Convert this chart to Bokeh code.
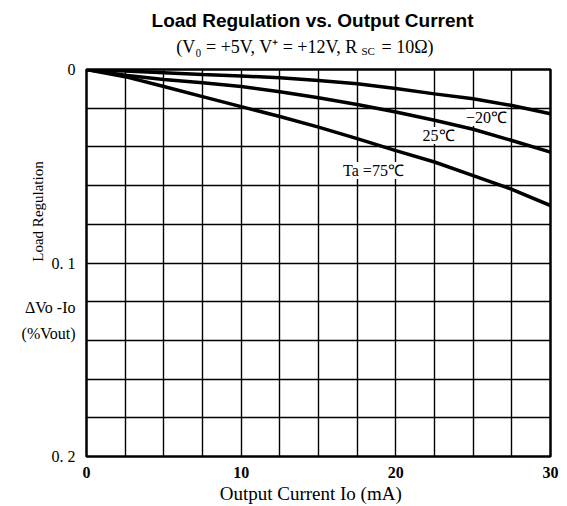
from bokeh.plotting import figure
from bokeh.models import Range1d, FixedTicker, Label
from bokeh.embed import file_html
from bokeh.resources import INLINE
import math

# Output current (mA)
current = [0, 2.5, 5, 7.5, 10, 12.5, 15, 17.5, 20, 22.5, 25, 27.5, 30]
# Load regulation (%Vout) for each ambient temperature
reg_m20 = [0, 0.0008, 0.0017, 0.0026, 0.0033, 0.0043, 0.0057, 0.0074, 0.0098, 0.0126, 0.0151, 0.0186, 0.0229]
reg_25 = [0, 0.0030, 0.0052, 0.0069, 0.0088, 0.0115, 0.0146, 0.0181, 0.0220, 0.0262, 0.0309, 0.0367, 0.0427]
reg_75 = [0, 0.0037, 0.0088, 0.0140, 0.0192, 0.0243, 0.0298, 0.0357, 0.0419, 0.0478, 0.0548, 0.0619, 0.0703]

x_ticks = [0, 10, 20, 30]
y_ticks = [0, 0.1, 0.123, 0.1364, 0.2]
y_tick_labels = {0: "0", 0.1: "0. 1", 0.123: "\u0394Vo -Io", 0.1364: "(%Vout)", 0.2: "0. 2"}
x_grid = [i * 2.5 for i in range(13)]
y_grid = [i * 0.02 for i in range(11)]

SERIF = "Liberation Serif"


def px_x(px):
    return (px - 86) / 464 * 30


def px_y(py):
    return (py - 69) / 387 * 0.2


p = figure(width=567, height=506, output_backend="svg", toolbar_location=None,
           x_range=Range1d(0, 30), y_range=Range1d(0.2, 0),
           min_border_left=86, min_border_right=17, min_border_top=69, min_border_bottom=50)
p.background_fill_color = "white"
p.border_fill_color = "white"
p.outline_line_color = "black"
p.outline_line_width = 2.5
p.outline_line_alpha = 1

p.xaxis.ticker = FixedTicker(ticks=x_ticks)
p.yaxis.ticker = FixedTicker(ticks=y_ticks)
p.yaxis.major_label_overrides = y_tick_labels
for ax in (p.xaxis[0], p.yaxis[0]):
    ax.axis_line_color = None
    ax.major_tick_line_color = None
    ax.minor_tick_line_color = None
    ax.major_label_text_font = SERIF
    ax.major_label_text_color = "black"
p.xaxis.major_label_text_font_size = "16px"
p.yaxis.major_label_text_font_size = "16px"
p.xaxis.major_label_text_font_style = "bold"
p.xaxis.major_label_standoff = 4
p.yaxis.major_label_standoff = 5

p.xgrid.ticker = FixedTicker(ticks=x_grid)
p.ygrid.ticker = FixedTicker(ticks=y_grid)
for g in (p.xgrid[0], p.ygrid[0]):
    g.grid_line_color = "black"
    g.grid_line_width = 1.4
    g.grid_line_alpha = 1

for ys in (reg_m20, reg_25, reg_75):
    p.line(current, ys, line_color="black", line_width=3.5)

# curve labels
for txt, xx, yy in (("\u221220\u2103", px_x(486), px_y(117)), ("25\u2103", px_x(438), px_y(135)),
                    ("Ta =75\u2103", px_x(373), px_y(170))):
    p.add_layout(Label(x=xx, y=yy, text=txt, text_align="center", text_baseline="middle",
                       text_font=SERIF, text_font_size="16px", text_color="black",
                       background_fill_color="white", background_fill_alpha=1))

# titles (placed in side panels so they are not clipped to the frame)
p.add_layout(Label(x=px_x(312), y=px_y(20), text="Load Regulation vs. Output Current",
                   text_align="center", text_baseline="middle", text_font="Liberation Sans",
                   text_font_style="bold", text_font_size="19px", text_color="black"), "above")
sub_y = px_y(46)
p.add_layout(Label(x=px_x(366), y=sub_y, text="(V\u2080 = +5V,  V\u207a = +12V,  R",
                   text_align="right", text_baseline="middle", text_font=SERIF,
                   text_font_size="18px", text_color="black"), "above")
p.add_layout(Label(x=px_x(381), y=sub_y, text="= 10\u03a9)",
                   text_align="left", text_baseline="middle", text_font=SERIF,
                   text_font_size="18px", text_color="black"), "above")
p.add_layout(Label(x=px_x(361), y=px_y(50), text="SC",
                   text_align="left", text_baseline="middle", text_font=SERIF,
                   text_font_size="11px", text_color="black"), "right")

# axis titles
p.add_layout(Label(x=px_x(37), y=px_y(211), text="Load Regulation", angle=math.pi / 2,
                   text_align="center", text_baseline="middle", text_font=SERIF,
                   text_font_size="15px", text_color="black"), "left")
p.add_layout(Label(x=px_x(315), y=px_y(493), text="Output Current  Io  (mA)", text_align="center",
                   text_baseline="middle", text_font=SERIF, text_font_size="19px",
                   text_color="black"), "below")

open("out.html", "w").write(file_html(p, INLINE))
